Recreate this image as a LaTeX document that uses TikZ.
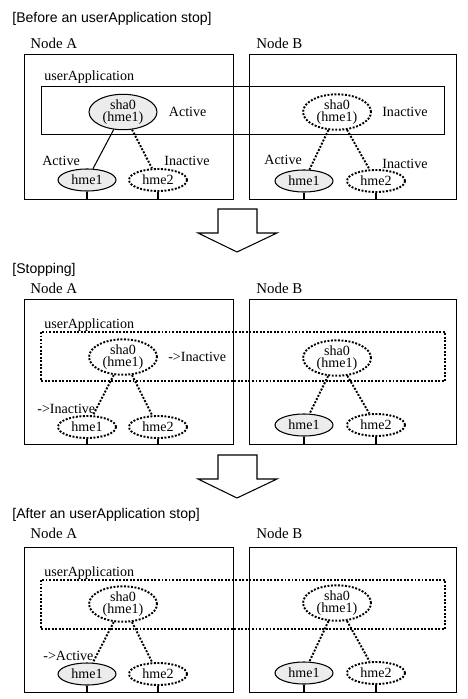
\documentclass[tikz,border=0pt]{standalone}
\usepackage{fontspec}
\setmainfont{Liberation Serif}
\setsansfont{Liberation Sans}
\usetikzlibrary{shapes.geometric,positioning}

\begin{document}
\begin{tikzpicture}[
  x=0.02cm, y=-0.02cm,
  txt/.style={font=\fontsize{8}{8}\selectfont, inner sep=0pt, anchor=west},
  ttl/.style={font=\sffamily\fontsize{8}{8}\selectfont, inner sep=0pt, anchor=west},
  nlbl/.style={font=\fontsize{8.5}{9}\selectfont, inner sep=0pt, anchor=west},
  frame/.style={draw, line width=0.6pt, inner sep=0pt, anchor=north west, minimum height=2.9cm},
  appbox/.style={draw, line width=0.6pt, inner sep=0pt, anchor=north west, minimum width=8.06cm, minimum height=0.96cm},
  dots/.style={line width=1.1pt, dash pattern=on 1.1pt off 0.9pt},
  on/.style={ellipse, draw, line width=0.6pt, fill=gray!15, inner sep=0pt, font=\fontsize{8}{7}\selectfont, align=center},
  off/.style={ellipse, draw, dots, fill=white, inner sep=0pt, font=\fontsize{8}{7}\selectfont, align=center},
  sha/.style={minimum width=1.36cm, minimum height=0.6cm},
  hme/.style={minimum width=1.16cm, minimum height=0.44cm},
  link/.style={line width=0.6pt},
  blockarrow/.style={draw, line width=0.6pt, fill=white},
]
  \useasboundingbox (0,0) rectangle (467,699);

  % Before an userApplication stop
  \node[ttl] (t1) at (12,19) {[Before an userApplication stop]};
  \node[nlbl] (na1) at (30,43) {Node A};
  \node[nlbl] (nb1) at (256,43) {Node B};
  \node[frame, minimum width=4.18cm] (fa1) at (24,54) {};
  \node[frame, minimum width=4.14cm] (fb1) at (249,54) {};
  \node[appbox] (ua1) at (41,86) {};
  \node[txt] (ul1) at (44,77) {userApplication};
  \node[on, sha] (sa1) at (123,112) {sha0\\(hme1)};
  \node[on, hme] (ha1) at (87,180) {hme1};
  \node[off, hme] (ha2) at (158,180) {hme2};
  \node[off, sha] (sb1) at (337,112) {sha0\\(hme1)};
  \node[on, hme] (hb1) at (304,181) {hme1};
  \node[off, hme] (hb2) at (376,181) {hme2};
  \node[txt, right=0.22cm of sa1] (sta1) {Active};
  \node[txt, right=0.2cm of sb1] (stb1) {Inactive};
  \node[txt] (la1) at (42,161) {Active};
  \node[txt] (la2) at (164,161) {Inactive};
  \node[txt] (lb1) at (264,160) {Active};
  \node[txt] (lb2) at (382,164) {Inactive};
  \draw[link] (sa1) -- (ha1);
  \draw[dots] (sa1) -- (ha2);
  \draw[dots] (sb1) -- (hb1);
  \draw[dots] (sb1) -- (hb2);
  \foreach \h in {ha1,ha2,hb1,hb2}
    \draw[link] (\h.south) -- (\h |- fa1.south);

  % arrows between the stages
  \foreach \y in {0,246}
    \draw[blockarrow] (218,209+\y) -- (257,209+\y) -- (257,233+\y) -- (277,233+\y)
      -- (237,252+\y) -- (198,233+\y) -- (218,233+\y) -- cycle;

  % Stopping
  \begin{scope}[shift={(0,245)}]
    \node[ttl] (t2) at (12,25) {[Stopping]};
    \node[nlbl] (na2) at (30,43) {Node A};
    \node[nlbl] (nb2) at (256,43) {Node B};
    \node[frame, minimum width=4.18cm] (fa2) at (24,54) {};
    \node[frame, minimum width=4.14cm] (fb2) at (249,54) {};
    \node[appbox, draw=none] (ua2) at (41,87) {};
    \draw[dots] (ua2.north west) rectangle (ua2.south east);
    \node[txt] (ul2) at (44,80) {userApplication};
    \node[off, sha] (sa2) at (123,112) {sha0\\(hme1)};
    \node[off, hme] (ha3) at (87,182) {hme1};
    \node[off, hme] (ha4) at (158,182) {hme2};
    \node[off, sha] (sb2) at (337,113) {sha0\\(hme1)};
    \node[on, hme] (hb3) at (304,180) {hme1};
    \node[off, hme] (hb4) at (376,180) {hme2};
    \node[txt, right=0.2cm of sa2] (sta2) {->Inactive};
    \node[txt] (la3) at (37,164) {->Inactive};
    \draw[dots] (sa2) -- (ha3);
    \draw[dots] (sa2) -- (ha4);
    \draw[dots] (sb2) -- (hb3);
    \draw[dots] (sb2) -- (hb4);
    \foreach \h in {ha3,ha4,hb3,hb4}
      \draw[link] (\h.south) -- (\h |- fa2.south);
  \end{scope}

  % After an userApplication stop
  \begin{scope}[shift={(0,493)}]
    \node[ttl] (t3) at (12,22) {[After an userApplication stop]};
    \node[nlbl] (na3) at (30,40) {Node A};
    \node[nlbl] (nb3) at (256,40) {Node B};
    \node[frame, minimum width=4.18cm] (fa3) at (24,54) {};
    \node[frame, minimum width=4.14cm] (fb3) at (249,54) {};
    \node[appbox, draw=none] (ua3) at (41,87) {};
    \draw[dots] (ua3.north west) rectangle (ua3.south east);
    \node[txt] (ul3) at (44,80) {userApplication};
    \node[off, sha] (sa3) at (123,111) {sha0\\(hme1)};
    \node[on, hme] (ha5) at (87,181) {hme1};
    \node[off, hme] (ha6) at (158,181) {hme2};
    \node[off, sha] (sb3) at (337,110) {sha0\\(hme1)};
    \node[on, hme] (hb5) at (304,180) {hme1};
    \node[off, hme] (hb6) at (376,180) {hme2};
    \node[txt] (la5) at (43,163) {->Active};
    \draw[dots] (sa3) -- (ha5);
    \draw[dots] (sa3) -- (ha6);
    \draw[dots] (sb3) -- (hb5);
    \draw[dots] (sb3) -- (hb6);
    \foreach \h in {ha5,ha6,hb5,hb6}
      \draw[link] (\h.south) -- (\h |- fa3.south);
  \end{scope}
\end{tikzpicture}
\end{document}
